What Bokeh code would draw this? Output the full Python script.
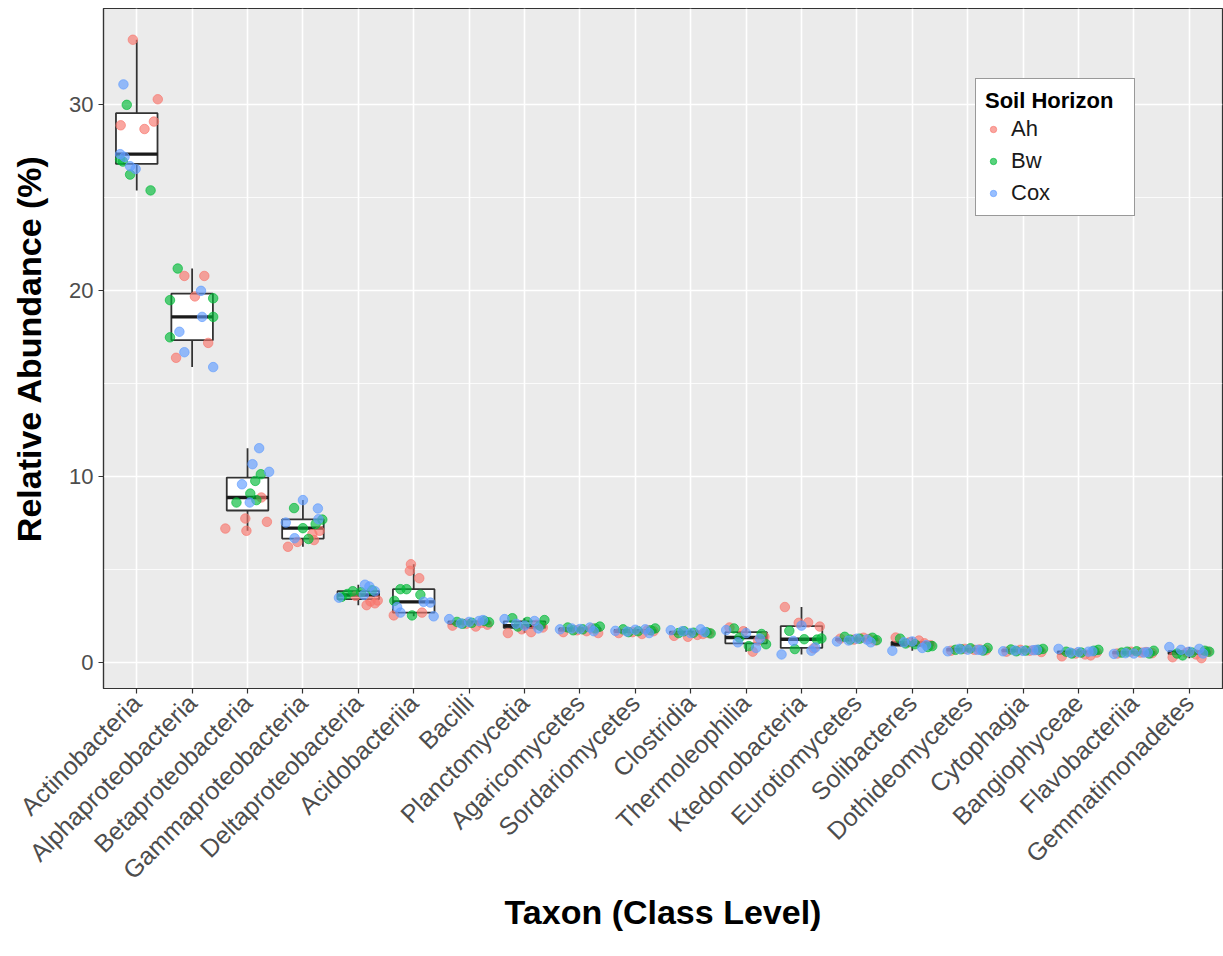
import numpy as np
from bokeh.plotting import figure
from bokeh.models import Range1d, FixedTicker, ColumnDataSource, Legend, LegendItem
from bokeh.embed import file_html
from bokeh.resources import INLINE

# Taxa on the x axis, in plotting order
taxa = [
    "Actinobacteria", "Alphaproteobacteria", "Betaproteobacteria", "Gammaproteobacteria",
    "Deltaproteobacteria", "Acidobacteriia", "Bacilli", "Planctomycetia", "Agaricomycetes",
    "Sordariomycetes", "Clostridia", "Thermoleophilia", "Ktedonobacteria", "Eurotiomycetes",
    "Solibacteres", "Dothideomycetes", "Cytophagia", "Bangiophyceae", "Flavobacteriia",
    "Gemmatimonadetes",
]

horizons = ["Ah", "Bw", "Cox"]
colors = {"Ah": "#F8766D", "Bw": "#00BA38", "Cox": "#619CFF"}

# Relative abundance (%) per sample, five samples per soil horizon
ah_values = [
    [33.5, 30.3, 29.1, 28.9, 28.7],
    [20.8, 20.8, 19.7, 17.2, 16.4],
    [8.89, 7.76, 7.22, 7.58, 7.1],
    [6.24, 6.5, 6.6, 6.92, 7.1],
    [3.1, 3.2, 3.3, 3.35, 3.6],
    [5.3, 4.95, 4.55, 2.55, 2.7],
    [2.0, 1.95, 2.1, 2.05, 2.15],
    [1.6, 1.65, 1.8, 1.9, 2.05],
    [1.65, 1.7, 1.75, 1.6, 1.85],
    [1.6, 1.55, 1.65, 1.7, 1.75],
    [1.45, 1.5, 1.4, 1.6, 1.55],
    [1.9, 0.6, 1.7, 1.4, 1.2],
    [3.0, 2.17, 2.15, 1.95, 0.78],
    [1.3, 1.35, 1.25, 1.2, 1.28],
    [1.36, 1.2, 1.1, 0.95, 1.05],
    [0.65, 0.7, 0.75, 0.68, 0.72],
    [0.6, 0.65, 0.7, 0.58, 0.68],
    [0.35, 0.45, 0.5, 0.55, 0.4],
    [0.5, 0.55, 0.6, 0.52, 0.58],
    [0.3, 0.45, 0.55, 0.6, 0.25],
]
bw_values = [
    [30.0, 27.05, 26.25, 25.4, 26.95],
    [21.2, 19.5, 19.6, 18.6, 17.5],
    [10.14, 9.78, 9.1, 8.62, 8.75],
    [8.32, 7.24, 7.46, 7.7, 6.66],
    [3.55, 3.7, 3.8, 3.85, 3.9],
    [3.96, 3.96, 3.66, 3.33, 2.55],
    [2.2, 2.15, 2.25, 2.1, 2.18],
    [2.4, 2.2, 2.0, 1.95, 2.3],
    [1.9, 1.8, 1.85, 1.75, 1.95],
    [1.8, 1.7, 1.75, 1.65, 1.85],
    [1.6, 1.62, 1.65, 1.7, 1.58],
    [1.85, 0.9, 1.55, 1.36, 1.0],
    [1.72, 1.27, 1.25, 0.74, 1.31],
    [1.4, 1.3, 1.35, 1.25, 1.22],
    [1.3, 1.0, 0.85, 1.04, 0.9],
    [0.7, 0.78, 0.66, 0.73, 0.8],
    [0.72, 0.66, 0.7, 0.62, 0.75],
    [0.6, 0.55, 0.65, 0.5, 0.7],
    [0.55, 0.62, 0.5, 0.6, 0.65],
    [0.5, 0.55, 0.65, 0.4, 0.6],
]
cox_values = [
    [31.1, 27.35, 26.7, 26.55, 27.2],
    [20.0, 18.6, 17.8, 16.7, 15.9],
    [11.54, 10.68, 10.27, 8.62, 9.6],
    [8.75, 8.3, 7.72, 7.54, 6.7],
    [3.5, 3.65, 3.85, 4.1, 4.2],
    [3.28, 3.24, 2.7, 2.5, 3.0],
    [2.35, 2.25, 2.12, 2.3, 2.2],
    [2.35, 2.25, 2.1, 1.85, 2.0],
    [1.8, 1.9, 1.85, 1.7, 1.82],
    [1.72, 1.8, 1.68, 1.6, 1.78],
    [1.75, 1.8, 1.7, 1.65, 1.6],
    [1.76, 0.8, 1.1, 1.3, 1.6],
    [0.45, 0.65, 1.18, 0.82, 2.0],
    [1.15, 1.25, 1.2, 1.1, 1.3],
    [0.65, 0.8, 1.1, 0.95, 1.15],
    [0.62, 0.7, 0.75, 0.68, 0.71],
    [0.62, 0.68, 0.66, 0.7, 0.64],
    [0.75, 0.6, 0.55, 0.62, 0.58],
    [0.48, 0.55, 0.52, 0.57, 0.5],
    [0.85, 0.75, 0.7, 0.5, 0.6],
]

# Horizontal jitter (fraction of a category slot) for each sample point
default_jitter = {
    "Ah": [-0.30, 0.12, -0.05, 0.33, 0.22],
    "Bw": [-0.22, 0.05, 0.28, -0.12, 0.36],
    "Cox": [-0.36, 0.18, -0.15, 0.25, 0.0],
}
jitter_overrides = {
    0: {"Ah": [-0.07, 0.38, 0.31, -0.29, 0.14],
        "Bw": [-0.18, -0.30, -0.12, 0.25, -0.25],
        "Cox": [-0.24, -0.30, -0.12, -0.02, -0.22]},
    1: {"Ah": [-0.14, 0.22, 0.05, 0.29, -0.29],
        "Bw": [-0.26, -0.40, 0.38, 0.38, -0.40],
        "Cox": [0.16, 0.18, -0.23, -0.14, 0.38]},
    2: {"Ah": [0.25, -0.04, -0.40, 0.35, -0.02],
        "Bw": [0.24, 0.14, 0.05, -0.20, 0.16],
        "Cox": [0.21, 0.09, 0.39, 0.04, -0.10]},
    3: {"Ah": [-0.27, -0.10, 0.20, 0.17, 0.30],
        "Bw": [-0.16, 0.0, 0.23, 0.35, 0.10],
        "Cox": [0.0, 0.27, 0.28, -0.31, -0.15]},
    4: {"Ah": [0.15, 0.30, 0.22, 0.35, -0.05],
        "Bw": [-0.30, -0.20, 0.05, -0.10, 0.25],
        "Cox": [-0.35, 0.10, 0.30, 0.20, 0.12]},
    5: {"Ah": [-0.05, -0.07, 0.10, -0.36, 0.15],
        "Bw": [-0.24, -0.13, 0.12, -0.35, -0.03],
        "Cox": [0.18, 0.30, -0.24, 0.36, -0.30]},
}

values_by_horizon = {"Ah": ah_values, "Bw": bw_values, "Cox": cox_values}

FONT = "Liberation Sans"

p = figure(
    width=1223, height=956,
    x_range=Range1d(-0.6, len(taxa) - 0.4),
    y_range=Range1d(-1.38, 35.18),
    output_backend="svg", toolbar_location=None,
    min_border_left=103, min_border_right=1, min_border_top=8, min_border_bottom=268,
    background_fill_color="#EBEBEB", border_fill_color="white",
)
p.outline_line_color = "#333333"
p.outline_line_width = 1.2

# Box plot statistics per taxon (all 15 samples pooled)
idx = np.arange(len(taxa))
q1s, meds, q3s, lows, highs = [], [], [], [], []
for i in range(len(taxa)):
    vals = np.array(ah_values[i] + bw_values[i] + cox_values[i])
    q1, med, q3 = np.percentile(vals, [25, 50, 75])
    iqr = q3 - q1
    q1s.append(q1); meds.append(med); q3s.append(q3)
    highs.append(vals[vals <= q3 + 1.5 * iqr].max())
    lows.append(vals[vals >= q1 - 1.5 * iqr].min())

box_src = ColumnDataSource(dict(
    x=idx, q1=q1s, med=meds, q3=q3s, lo=lows, hi=highs,
    left=idx - 0.375, right=idx + 0.375,
))
p.segment(x0="x", y0="q3", x1="x", y1="hi", source=box_src, line_color="#333333", line_width=1.8)
p.segment(x0="x", y0="q1", x1="x", y1="lo", source=box_src, line_color="#333333", line_width=1.8)
p.vbar(x="x", width=0.75, bottom="q1", top="q3", source=box_src,
       fill_color="white", line_color="#333333", line_width=1.8)
p.segment(x0="left", y0="med", x1="right", y1="med", source=box_src,
          line_color="#1a1a1a", line_width=3.4)

# Jittered sample points
renderers = {}
for h in horizons:
    xs, ys = [], []
    for i in range(len(taxa)):
        jit = jitter_overrides.get(i, default_jitter)[h]
        for v, j in zip(values_by_horizon[h][i], jit):
            xs.append(i + j)
            ys.append(v)
    renderers[h] = p.scatter(x=xs, y=ys, size=9.5, fill_color=colors[h], line_color=colors[h],
                             fill_alpha=0.65, line_alpha=0.65)

# Axes
p.xaxis.ticker = FixedTicker(ticks=list(range(len(taxa))))
p.xaxis.major_label_overrides = {i: t for i, t in enumerate(taxa)}
p.xaxis.major_label_orientation = np.pi / 4
p.xaxis.minor_tick_line_color = None
p.yaxis.ticker = FixedTicker(ticks=[0, 10, 20, 30], minor_ticks=[5, 15, 25])
p.yaxis.minor_tick_line_color = None

for ax in (p.xaxis, p.yaxis):
    ax.axis_line_color = "#333333"
    ax.axis_line_width = 1.2
    ax.major_tick_line_color = "#333333"
    ax.major_tick_line_width = 1.2
    ax.major_tick_in = 0
    ax.major_tick_out = 5
    ax.major_label_text_font = FONT
    ax.major_label_text_color = "#4D4D4D"
    ax.axis_label_text_font = FONT
    ax.axis_label_text_font_size = "34px"
    ax.axis_label_text_font_style = "bold"
    ax.axis_label_text_color = "black"

p.xaxis.major_label_text_font_size = "25px"
p.yaxis.major_label_text_font_size = "22px"
p.xaxis.axis_label = "Taxon (Class Level)"
p.yaxis.axis_label = "Relative Abundance (%)"
p.yaxis.axis_label_standoff = 18
p.xaxis.axis_label_standoff = -4

# Grid
p.xgrid.grid_line_color = "white"
p.xgrid.grid_line_width = 1.6
p.ygrid.grid_line_color = "white"
p.ygrid.grid_line_width = 1.6
p.ygrid.minor_grid_line_color = "white"
p.ygrid.minor_grid_line_width = 0.8

legend = Legend(
    items=[LegendItem(label=h, renderers=[renderers[h]]) for h in horizons],
    location=(872, 472),
    title="Soil Horizon",
    title_text_font=FONT, title_text_font_size="22px", title_text_font_style="bold",
    title_text_color="black", title_standoff=2,
    label_text_font=FONT, label_text_font_size="22px", label_text_color="#1a1a1a",
    border_line_color="#333333", border_line_width=1.4,
    background_fill_color="white", background_fill_alpha=1.0,
    padding=9, spacing=6, label_height=24, glyph_height=24, glyph_width=16,
    label_standoff=10, label_width=114,
    margin=0,
)
p.add_layout(legend)

open("out.html", "w").write(file_html(p, INLINE))
